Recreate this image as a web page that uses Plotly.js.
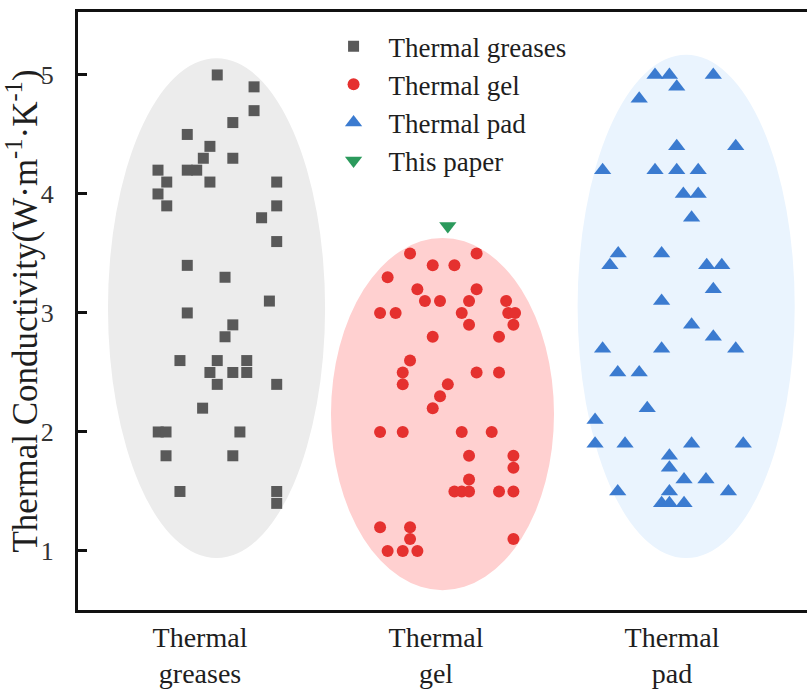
<!DOCTYPE html>
<html>
<head>
<meta charset="utf-8">
<script src="https://cdn.plot.ly/plotly-3.0.1.min.js"></script>
<style>html,body{margin:0;padding:0;background:#fff;}#chart{width:807px;height:691px;}</style>
</head>
<body>
<div id="chart"></div>
<script>
// Category positions and tick labels
const categoryPos = [1, 2, 3];
const categoryLabels = ["Thermal<br>greases", "Thermal<br>gel", "Thermal<br>pad"];

// Thermal greases (jittered x, value)
const greasesX = [1.073,1.229,1.229,1.139,0.946,1.042,1.014,1.139,0.822,0.946,0.986,0.859,1.042,1.325,0.822,0.859,1.325,1.261,1.325,0.946,1.106,1.294,0.946,1.139,1.106,0.915,1.073,1.198,1.042,1.139,1.198,1.073,1.325,1.011,0.823,0.856,1.169,0.856,1.139,0.915,1.325,1.325];
const greasesY = [5.0,4.9,4.7,4.6,4.5,4.4,4.3,4.3,4.2,4.2,4.2,4.1,4.1,4.1,4.0,3.9,3.9,3.8,3.6,3.4,3.3,3.1,3.0,2.9,2.8,2.6,2.6,2.6,2.5,2.5,2.5,2.4,2.4,2.2,2.0,2.0,2.0,1.8,1.8,1.5,1.5,1.4];

// Thermal gel
const gelX = [1.890,2.172,1.986,2.078,1.795,1.921,2.172,1.953,2.017,2.140,2.297,1.763,1.829,2.109,2.306,2.335,2.140,2.328,1.986,2.267,1.890,1.859,2.172,2.267,1.859,2.050,2.017,1.986,1.763,1.859,2.109,2.236,2.140,2.328,2.328,2.140,2.078,2.109,2.140,2.267,2.328,1.763,1.890,1.890,2.328,1.795,1.859,1.921];
const gelY = [3.5,3.5,3.4,3.4,3.3,3.2,3.2,3.1,3.1,3.1,3.1,3.0,3.0,3.0,3.0,3.0,2.9,2.9,2.8,2.8,2.6,2.5,2.5,2.5,2.4,2.4,2.3,2.2,2.0,2.0,2.0,2.0,1.8,1.8,1.7,1.6,1.5,1.5,1.5,1.5,1.5,1.2,1.2,1.1,1.1,1.0,1.0,1.0];

// Thermal pad
const padX = [2.928,2.989,3.175,3.020,2.861,3.020,3.270,2.706,2.928,3.020,3.111,3.048,3.111,3.083,2.772,2.737,2.956,3.147,3.211,3.175,2.956,3.083,3.175,2.706,2.956,3.270,2.770,2.861,2.895,2.674,2.674,2.801,3.083,3.302,2.989,2.989,3.051,3.144,2.770,2.989,3.239,2.956,2.989,3.051];
const padY = [5.0,5.0,5.0,4.9,4.8,4.4,4.4,4.2,4.2,4.2,4.2,4.0,4.0,3.8,3.5,3.4,3.5,3.4,3.4,3.2,3.1,2.9,2.8,2.7,2.7,2.7,2.5,2.5,2.2,2.1,1.9,1.9,1.9,1.9,1.8,1.7,1.6,1.6,1.5,1.5,1.5,1.4,1.4,1.4];

// This paper
const paperX = [2.050];
const paperY = [3.73];

// Shaded ranges per category (data units): [xLow, xHigh, yLow, yHigh]
const greasesRegion = [0.61, 1.53, 0.94, 5.14];
const gelRegion = [1.555, 2.50, 0.67, 3.63];
const padRegion = [2.60, 3.52, 0.94, 5.17];

const serif = "Liberation Serif";

const traces = [
  {x: greasesX, y: greasesY, mode: "markers", type: "scatter", name: "Thermal greases",
   marker: {symbol: "square", size: 11, color: "#595959"}},
  {x: gelX, y: gelY, mode: "markers", type: "scatter", name: "Thermal gel",
   marker: {symbol: "circle", size: 12, color: "#e5312f"}},
  {x: padX, y: padY, mode: "markers", type: "scatter", name: "Thermal pad",
   marker: {symbol: "triangle-up", size: 15, color: "#3b7bd0"}},
  {x: paperX, y: paperY, mode: "markers", type: "scatter", name: "This paper",
   marker: {symbol: "triangle-down", size: 15, color: "#2b9a5c"}}
];

function region(r, color) {
  return {type: "circle", xref: "x", yref: "y", x0: r[0], x1: r[1], y0: r[2], y1: r[3],
          fillcolor: color, line: {width: 0}, layer: "below"};
}

const layout = {
  width: 807, height: 691,
  margin: {l: 78, r: 0, t: 12, b: 81},
  paper_bgcolor: "#ffffff", plot_bgcolor: "#ffffff",
  font: {family: serif, color: "#1e1e1e", size: 26},
  showlegend: true,
  legend: {x: 0.33, y: 0.983, xanchor: "left", yanchor: "top", bgcolor: "rgba(0,0,0,0)",
           itemwidth: 60, font: {family: serif, size: 27, color: "#1e1e1e"}},
  xaxis: {range: [0.483, 3.572], tickvals: categoryPos, ticktext: categoryLabels,
          showgrid: false, zeroline: false, showline: true, linecolor: "#111111", linewidth: 3,
          mirror: true, ticks: "", tickfont: {family: serif, size: 28, color: "#1e1e1e"}},
  yaxis: {range: [0.504, 5.529], tickvals: [1,2,3,4,5], showgrid: false, zeroline: false,
          showline: true, linecolor: "#111111", linewidth: 3, ticks: "inside", ticklen: 9,
          tickwidth: 3, tickcolor: "#111111", ticklabelstandoff: 16,
          tickfont: {family: serif, size: 26, color: "#333333"},
          title: {text: "Thermal Conductivity(W·m<sup>-1</sup>·K<sup>-1</sup>)", standoff: 4,
                  font: {family: serif, size: 35, color: "#1e1e1e"}}},
  shapes: [region(greasesRegion, "#ececec"), region(gelRegion, "#ffd0d0"), region(padRegion, "#eaf4fe")]
};

Plotly.newPlot("chart", traces, layout, {displayModeBar: false, staticPlot: true});
</script>
</body>
</html>
